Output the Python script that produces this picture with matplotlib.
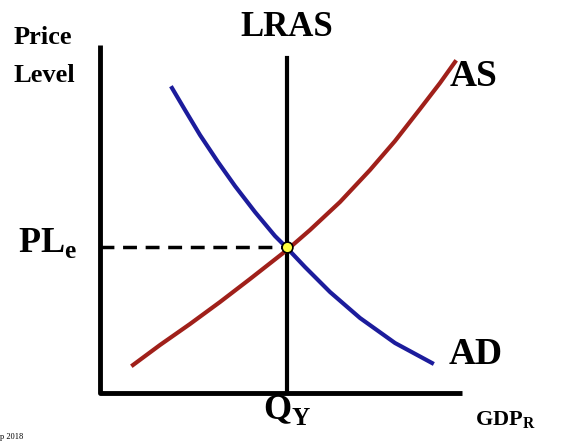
import matplotlib.pyplot as plt

plt.rcParams["mathtext.fontset"] = "custom"
plt.rcParams["mathtext.rm"] = "Liberation Serif"
plt.rcParams["mathtext.bf"] = "Liberation Serif:bold"

# curve points in picture coordinates (x right, y down)
as_x = [133, 160, 190, 220, 250, 287, 310, 340, 370, 395, 420, 440, 455]
as_y = [365, 345, 324, 302, 279, 250, 230, 202, 170, 141, 109, 83, 62]
ad_x = [172, 185, 200, 218, 235, 255, 275, 287, 305, 330, 360, 395, 432]
ad_y = [88, 110, 135, 162, 186, 212, 236, 248, 267, 292, 318, 343, 363]
eq_x, eq_y = 287, 247

fig = plt.figure(figsize=(5.62, 4.45), dpi=100)
ax = fig.add_axes([0, 0, 1, 1])
ax.set_xlim(0, 562)
ax.set_ylim(445, 0)
ax.axis("off")

font = dict(family="Liberation Serif", weight="bold")

ax.plot([100, 100, 462], [45, 393, 393], color="black", lw=3.5, solid_capstyle="butt")
ax.plot([eq_x, eq_x], [58, 393], color="black", lw=3)
ax.plot([100, eq_x], [eq_y, eq_y], color="black", lw=2.5, ls=(0, (4, 2.5)))
ax.plot(as_x, as_y, color="#a0201a", lw=3)
ax.plot(ad_x, ad_y, color="#1c1c9c", lw=3)
ax.scatter([eq_x], [eq_y], s=60, color="#ffff40", edgecolor="black", lw=1.2, zorder=5)

ax.text(14, 38, "Price", ha="left", va="center", fontsize=19, **font)
ax.text(14, 76, "Level", ha="left", va="center", fontsize=19, **font)
ax.text(287, 28, "LRAS", ha="center", va="center", fontsize=25, **font)
ax.text(474, 76, "AS", ha="center", va="center", fontsize=27, **font)
ax.text(476, 355, "AD", ha="center", va="center", fontsize=27, **font)
ax.text(18, 243, r"PL$_\mathbf{e}$", ha="left", va="center", fontsize=26, **font)
ax.text(287, 410, r"Q$_\mathbf{Y}$", ha="center", va="center", fontsize=26, **font)
ax.text(505, 420, r"GDP$_\mathbf{R}$", ha="center", va="center", fontsize=16, **font)
ax.text(0, 437, "p 2018", ha="left", va="center", fontsize=6, family="Liberation Serif")

fig.savefig("out.png", dpi=100)
